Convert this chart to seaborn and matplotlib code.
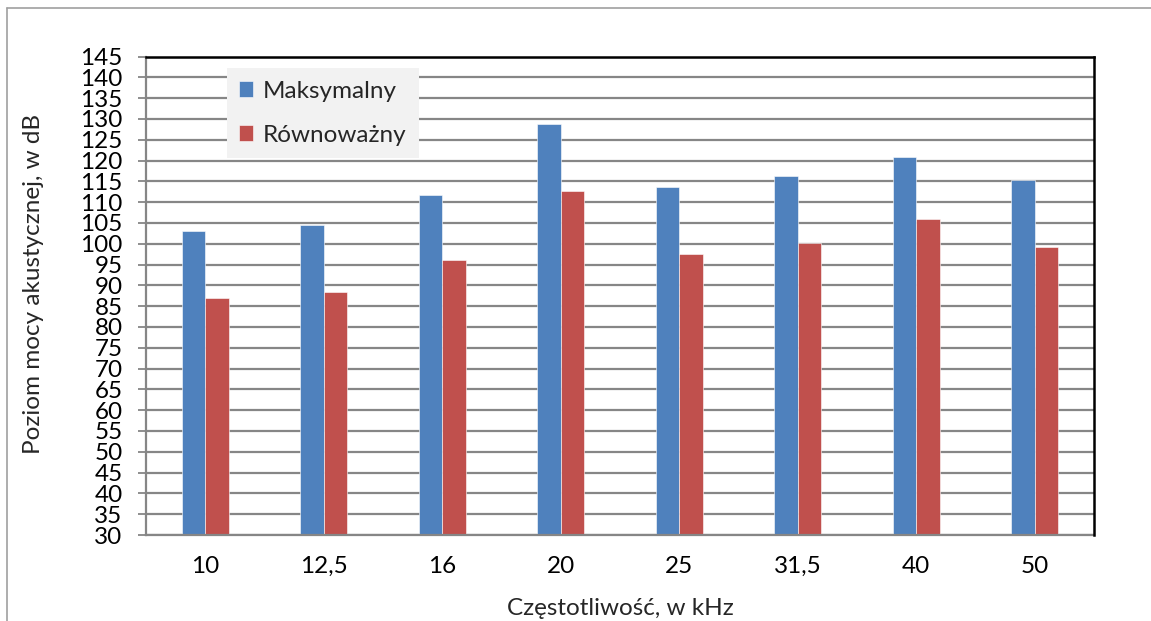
import matplotlib
matplotlib.use("Agg")
import matplotlib.pyplot as plt
from matplotlib.lines import Line2D
import seaborn as sns
import pandas as pd

# Częstotliwości pasm tercjowych i poziomy mocy akustycznej
czestotliwosci = ["10", "12,5", "16", "20", "25", "31,5", "40", "50"]
maksymalny = [103.0, 104.6, 111.6, 128.7, 113.6, 116.2, 120.9, 115.3]
rownowazny = [87.0, 88.4, 96.0, 112.7, 97.6, 100.2, 106.0, 99.2]
serie = ["Maksymalny", "Równoważny"]
kolory = ["#4f81bd", "#c0504d"]
y_ticks = list(range(30, 150, 5))

df = pd.DataFrame({
    "f": czestotliwosci * 2,
    "L": maksymalny + rownowazny,
    "seria": [serie[0]] * len(czestotliwosci) + [serie[1]] * len(czestotliwosci),
})

sns.set_style("white")
plt.rcParams["font.family"] = ["Lato", "DejaVu Sans"]
FS = 17.5

W, H = 1151, 621
fig = plt.figure(figsize=(W / 100, H / 100), dpi=100)
ax = fig.add_axes([146 / W, 1 - 535 / H, (1094 - 146) / W, (535 - 56.5) / H])

sns.barplot(data=df, x="f", y="L", hue="seria", order=czestotliwosci,
            hue_order=serie, palette=kolory, width=0.4, ax=ax,
            edgecolor="white", linewidth=0.4, saturation=1, legend=True)

ax.set_ylim(30, 145)
ax.set_xlim(-0.5, len(czestotliwosci) - 0.5)
ax.set_yticks(y_ticks)
ax.set_yticklabels([str(v) for v in y_ticks], fontsize=FS)
ax.tick_params(axis="y", which="major", direction="out", length=5.8, width=1.3,
               color="#868686", pad=11, left=True, labelcolor="black")
ax.tick_params(axis="x", length=0, pad=15, labelsize=FS, labelcolor="black")

ax.set_axisbelow(True)
ax.yaxis.grid(True, color="#868686", linewidth=1.6)
ax.xaxis.grid(False)

for side in ["left", "bottom"]:
    ax.spines[side].set_color("#868686")
    ax.spines[side].set_linewidth(1.6)
for side in ["top", "right"]:
    ax.spines[side].set_color("black")
    ax.spines[side].set_linewidth(1.8)
    ax.spines[side].set_zorder(5)

ax.set_xlabel("Częstotliwość, w kHz", fontsize=FS, labelpad=15)
ax.set_ylabel("Poziom mocy akustycznej, w dB", fontsize=FS)
ax.yaxis.set_label_coords(-0.108, 0.525)

leg = ax.legend(loc="upper left", bbox_to_anchor=(0.085, 0.975), fontsize=FS,
                frameon=True, fancybox=False, facecolor="#f2f2f2", edgecolor="none",
                framealpha=1, handlelength=0.6, handleheight=0.6, handletextpad=0.4,
                labelspacing=0.95, borderpad=0.5, borderaxespad=0)

# Ramka obszaru wykresu
fig.add_artist(Line2D([7 / W, 7 / W], [0, 1 - 8 / H], color="#a0a0a0", linewidth=1.2,
                      transform=fig.transFigure))
fig.add_artist(Line2D([7 / W, 1], [1 - 8 / H, 1 - 8 / H], color="#a0a0a0", linewidth=1.2,
                      transform=fig.transFigure))

fig.savefig("out.png", dpi=100, facecolor="white")
